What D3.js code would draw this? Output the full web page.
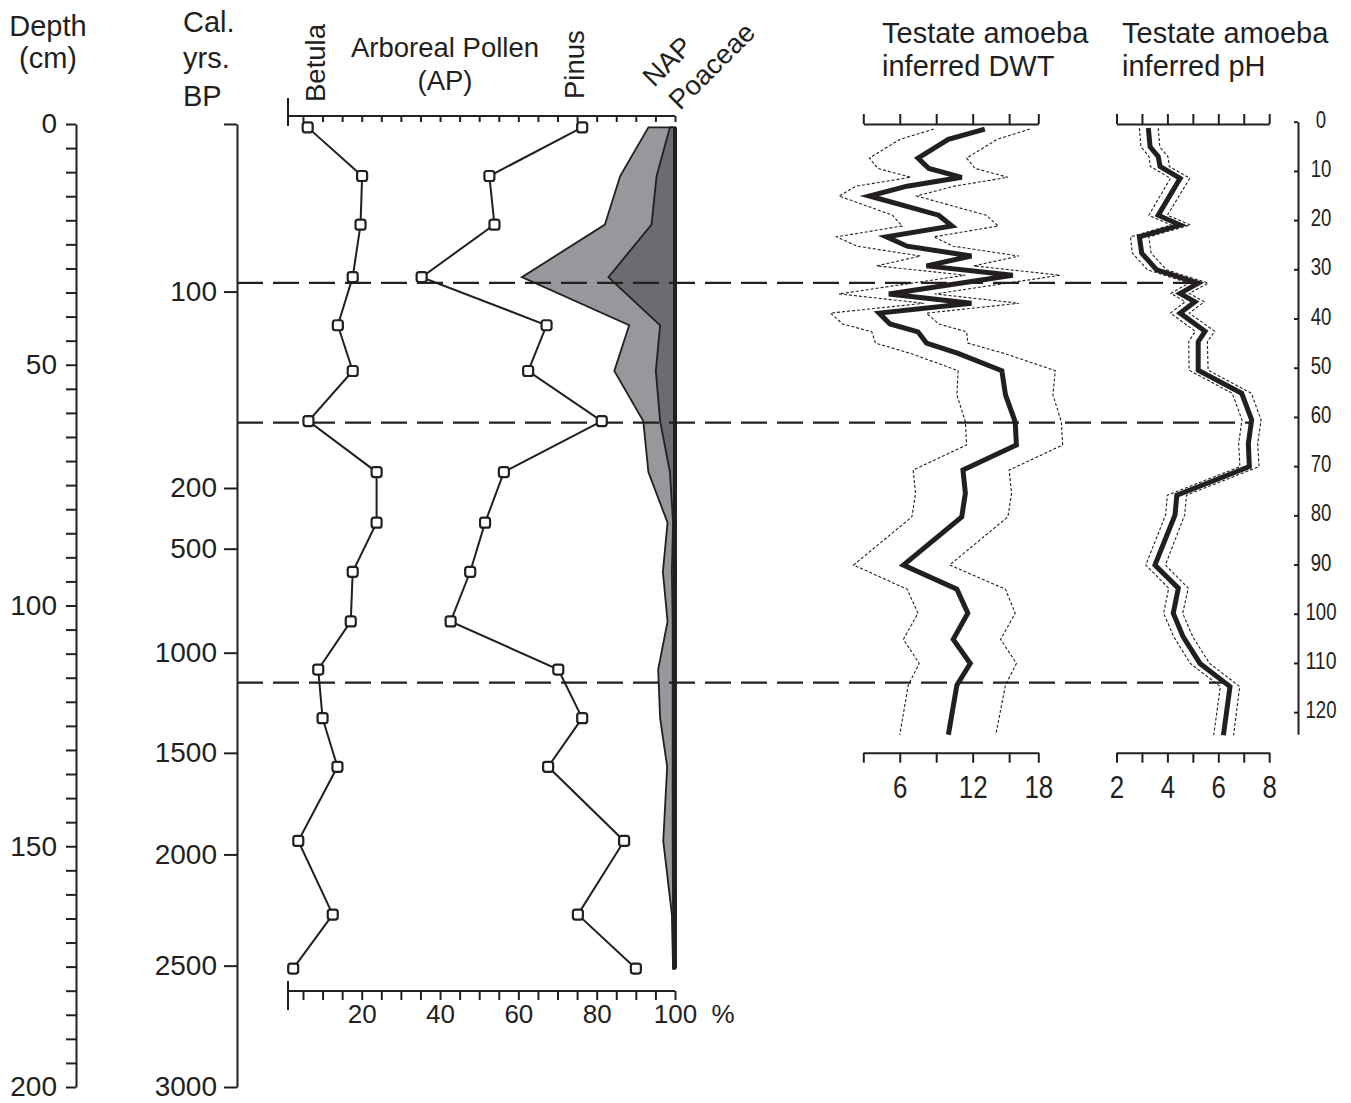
<!DOCTYPE html>
<html>
<head>
<meta charset="utf-8">
<script src="https://cdn.jsdelivr.net/npm/d3@7"></script>
<style>
  body { margin: 0; background: #fff; }
  text { font-family: "Liberation Sans", Arial, Helvetica, sans-serif; fill: #231f20; }
</style>
</head>
<body>
<svg id="chart" width="1351" height="1103"></svg>
<script>
// ---- data ----
// age-depth tick labels of the calibrated age axis (depth in cm of each label)
const calAges   = [100, 200, 500, 1000, 1500, 2000, 2500, 3000];
const calDepths = [34.8, 75.6, 88.2, 109.8, 130.6, 151.7, 174.8, 200];

// pollen samples (core depth, cm) and percentages
const pollenDepth = [0.7, 10.8, 20.9, 31.8, 41.8, 51.3, 61.7, 72.3, 82.8, 93.0, 103.3, 113.3, 123.4, 133.5, 148.9, 164.2, 175.4];
const betula  = [6.2, 20.1, 19.7, 17.7, 13.9, 17.7, 6.4, 23.8, 23.8, 17.7, 17.2, 8.9, 10.0, 13.8, 3.8, 12.6, 2.5];
const pinus   = [76.3, 52.6, 53.9, 35.3, 67.2, 62.5, 81.3, 56.3, 51.5, 47.7, 42.7, 70.2, 76.3, 67.6, 87.0, 75.2, 90.0];
const nap     = [6.8, 14.0, 17.9, 39.1, 11.7, 15.5, 8.1, 6.8, 1.9, 3.1, 1.9, 4.3, 3.8, 2.0, 3.0, 0.8, 0.5];
const poaceae = [1.3, 4.7, 6.0, 17.0, 3.8, 4.9, 3.8, 1.3, 0.5, 0.8, 0.6, 0.6, 0.6, 0.6, 0.6, 0.5, 0.5];

// zone boundaries (core depth, cm)
const zoneDepth = [33, 62, 116];

// testate amoeba depth water table (cm), depth of testate core
const dwtDepth = [1.5, 3.6, 7.4, 9.5, 11.3, 13.1, 15.1, 19.0, 21.2, 23.4, 25.3, 27.3, 29.3, 31.2, 35.0, 36.9, 38.9, 41.1, 42.7, 45.0, 47.1, 50.6, 55.5, 61.0, 65.7, 70.8, 75.5, 80.3, 90.1, 95.0, 99.9, 105.2, 110.1, 114.5, 124.6];
const dwt      = [13.0, 10.0, 7.5, 8.4, 11.1, 6.6, 3.5, 9.2, 10.3, 4.9, 6.6, 11.9, 8.2, 15.3, 5.1, 11.9, 4.3, 5.2, 7.5, 8.2, 10.8, 14.4, 14.7, 15.5, 15.6, 11.2, 11.4, 11.1, 6.3, 10.7, 11.6, 10.4, 11.8, 10.7, 10.0];
const dwtLow   = [8.8, 6.0, 3.5, 4.2, 6.9, 2.4, 1.0, 5.4, 6.2, 0.8, 2.5, 7.7, 4.1, 11.4, 1.0, 8.0, 0.3, 1.3, 3.7, 4.0, 6.9, 10.8, 10.7, 11.4, 11.5, 7.1, 7.3, 7.0, 2.2, 6.6, 7.5, 6.3, 7.6, 6.7, 6.0];
const dwtHigh  = [16.7, 14.0, 11.5, 12.2, 14.9, 10.5, 7.4, 13.1, 14.1, 8.8, 10.4, 15.8, 12.1, 19.2, 8.9, 15.8, 8.2, 9.2, 11.5, 11.6, 14.6, 18.8, 18.6, 19.3, 19.4, 15.0, 15.2, 14.9, 10.1, 14.7, 15.5, 14.3, 15.6, 14.7, 13.9];
const dwtTicks = [3, 6, 9, 12, 15, 17.4];
const dwtTickLabels = ["", "6", "", "12", "", "18"];

// testate amoeba pH
const phDepth = [1.3, 5.1, 7.1, 9.1, 11.5, 19.0, 21.0, 23.4, 26.7, 30.1, 32.8, 34.9, 36.6, 38.9, 42.6, 44.7, 50.5, 55.2, 60.6, 65.4, 70.1, 75.9, 79.9, 90.1, 94.8, 99.9, 104.7, 110.1, 114.8, 124.7];
const ph      = [3.25, 3.32, 3.64, 3.71, 4.50, 3.64, 4.50, 2.90, 2.99, 3.58, 5.21, 4.50, 5.08, 4.50, 5.48, 5.21, 5.21, 6.92, 7.31, 7.18, 7.22, 4.37, 4.30, 3.51, 4.43, 4.23, 4.62, 5.28, 6.46, 6.20];
const phLow   = [2.90, 2.96, 3.28, 3.33, 4.12, 3.27, 4.15, 2.55, 2.62, 3.22, 4.85, 4.14, 4.70, 4.12, 5.10, 4.84, 4.85, 6.55, 6.93, 6.80, 6.85, 4.00, 3.93, 3.15, 4.05, 3.85, 4.25, 4.90, 6.08, 5.82];
const phHigh  = [3.64, 3.70, 4.02, 4.08, 4.88, 4.00, 4.90, 3.27, 3.36, 3.96, 5.60, 4.86, 5.45, 4.86, 5.86, 5.57, 5.60, 7.30, 7.68, 7.55, 7.60, 4.75, 4.68, 3.92, 4.82, 4.60, 5.00, 5.66, 6.84, 6.60];
const phTicks = [2, 3, 4, 5, 6, 7, 8];

const taDepthTicks = [0, 10, 20, 30, 40, 50, 60, 70, 80, 90, 100, 110, 120];

// ---- drawing ----
const ink = "#231f20";
const svg = d3.select("#chart");

const yCore = d3.scaleLinear().domain([0, 200]).range([124, 1087]);
const yTa   = d3.scaleLinear().domain([0, 124.5]).range([121.7, 734.3]);
const xPol  = d3.scaleLinear().domain([0, 100]).range([283.4, 675]);
const xDwt  = d3.scaleLinear().domain([3, 17.4]).range([863.3, 1038.3]);
const xPh   = d3.scaleLinear().domain([2, 8]).range([1116.5, 1269.2]);

function styleAxis(g, fs) {
  g.attr("font-size", fs).attr("font-family", null);
  g.selectAll("path, line").attr("stroke", ink).attr("stroke-width", 2);
  g.selectAll("text").attr("fill", ink);
}
// the narrow, tall digits of the testate panels
function narrow(sel, fs) {
  sel.each(function () {
    const s = d3.select(this).text();
    if (s.length) d3.select(this).attr("textLength", s.length * 0.45 * fs).attr("lengthAdjust", "spacingAndGlyphs");
  });
}

// left depth axis
svg.append("g").attr("transform", "translate(76,0)")
  .call(d3.axisLeft(yCore).tickValues(d3.range(0, 201, 5)).tickSize(10).tickSizeOuter(0)
    .tickPadding(9).tickFormat(d => d % 50 ? "" : d))
  .call(g => styleAxis(g, 28));

// calibrated age axis
svg.append("g").attr("transform", "translate(237,0)")
  .call(d3.axisLeft(yCore).tickValues([0].concat(calDepths)).tickSize(13).tickSizeOuter(0)
    .tickPadding(7).tickFormat((d, i) => i === 0 ? "" : calAges[i - 1]))
  .call(g => styleAxis(g, 28));

// headers
function lines(x, ys, strs, anchor, fs) {
  strs.forEach((s, i) => svg.append("text").attr("x", x).attr("y", ys[i])
    .attr("text-anchor", anchor).attr("font-size", fs).text(s));
}
lines(48, [36, 68], ["Depth", "(cm)"], "middle", 29);
lines(183, [32, 68, 106], ["Cal.", "yrs.", "BP"], "start", 29);
lines(445, [57, 90], ["Arboreal Pollen", "(AP)"], "middle", 27.5);
lines(882, [43, 76], ["Testate amoeba", "inferred DWT"], "start", 29);
lines(1122, [43, 76], ["Testate amoeba", "inferred pH"], "start", 29);

svg.append("text").attr("transform", "translate(325,102) rotate(-90)").attr("font-size", 27.5).text("Betula");
svg.append("text").attr("transform", "translate(584,99) rotate(-90)").attr("font-size", 27.5).text("Pinus");
svg.append("text").attr("transform", "translate(654,88) rotate(-45)").attr("font-size", 27.5).text("NAP");
svg.append("text").attr("transform", "translate(680,111) rotate(-45)").attr("font-size", 27.5).text("Poaceae");

// pollen axes
const polEnd = 288;
svg.append("g").attr("transform", "translate(0,116)")
  .call(d3.axisBottom(xPol).tickValues(d3.range(5, 101, 5)).tickSize(6).tickSizeOuter(0).tickFormat(""))
  .call(g => styleAxis(g, 26))
  .call(g => g.select(".domain").attr("d", `M${polEnd},0H${xPol(100)}`));
svg.append("line").attr("x1", polEnd).attr("x2", polEnd).attr("y1", 98).attr("y2", 126)
  .attr("stroke", ink).attr("stroke-width", 2);

svg.append("g").attr("transform", "translate(0,991)")
  .call(d3.axisBottom(xPol).tickValues(d3.range(5, 101, 5)).tickSize(9).tickSizeOuter(0)
    .tickPadding(5).tickFormat(d => d % 20 ? "" : d))
  .call(g => styleAxis(g, 26))
  .call(g => g.select(".domain").attr("d", `M${polEnd},0H${xPol(100)}`));
svg.append("line").attr("x1", polEnd).attr("x2", polEnd).attr("y1", 981).attr("y2", 1010)
  .attr("stroke", ink).attr("stroke-width", 2);
svg.append("text").attr("x", 723).attr("y", 1023).attr("text-anchor", "middle").attr("font-size", 26).text("%");

// NAP and Poaceae silhouettes
const napRows = pollenDepth.map((d, i) => ({ depth: d, v: nap[i] }));
const poaRows = pollenDepth.map((d, i) => ({ depth: d, v: poaceae[i] }));
const silhouette = d3.area().y(d => yCore(d.depth)).x0(xPol(100)).x1(d => xPol(100 - d.v));
svg.append("path").datum(napRows).attr("d", silhouette)
  .attr("fill", "#97989c").attr("stroke", ink).attr("stroke-width", 1.8);
svg.append("path").datum(poaRows).attr("d", silhouette)
  .attr("fill", "#6b6c70").attr("stroke", ink).attr("stroke-width", 1.8);
svg.append("line").attr("x1", xPol(100)).attr("x2", xPol(100))
  .attr("y1", yCore(pollenDepth[0])).attr("y2", yCore(pollenDepth[pollenDepth.length - 1]))
  .attr("stroke", ink).attr("stroke-width", 4);

// zone lines, ending on the pH curve
const phAt = d => {
  const i = d3.bisectLeft(phDepth, d);
  const t = (d - phDepth[i - 1]) / (phDepth[i] - phDepth[i - 1]);
  return ph[i - 1] + t * (ph[i] - ph[i - 1]);
};
svg.selectAll(".zone").data(zoneDepth).join("line").attr("class", "zone")
  .attr("x1", 237).attr("x2", d => xPh(phAt(yTa.invert(yCore(d)))))
  .attr("y1", d => yCore(d)).attr("y2", d => yCore(d))
  .attr("stroke", ink).attr("stroke-width", 2.2).attr("stroke-dasharray", "26,10");

// Betula and Pinus curves
[betula, pinus].forEach(series => {
  const rows = pollenDepth.map((d, i) => ({ depth: d, v: series[i] }));
  svg.append("path").datum(rows)
    .attr("d", d3.line().x(d => xPol(d.v)).y(d => yCore(d.depth)))
    .attr("fill", "none").attr("stroke", ink).attr("stroke-width", 2);
  svg.append("g").selectAll("rect").data(rows).join("rect")
    .attr("x", d => xPol(d.v) - 5).attr("y", d => yCore(d.depth) - 5)
    .attr("width", 10).attr("height", 10).attr("rx", 2.5)
    .attr("fill", "#fff").attr("stroke", ink).attr("stroke-width", 2.2);
});

// testate curves
function curve(depths, vals, xs, width, dash) {
  const rows = depths.map((d, i) => ({ depth: d, v: vals[i] }));
  svg.append("path").datum(rows)
    .attr("d", d3.line().x(d => xs(d.v)).y(d => yTa(d.depth)))
    .attr("fill", "none").attr("stroke", ink).attr("stroke-width", width)
    .attr("stroke-dasharray", dash || null);
}
curve(dwtDepth, dwtLow, xDwt, 1.1, "3,2");
curve(dwtDepth, dwtHigh, xDwt, 1.1, "3,2");
curve(dwtDepth, dwt, xDwt, 5);
curve(phDepth, phLow, xPh, 1.1, "3,2");
curve(phDepth, phHigh, xPh, 1.1, "3,2");
curve(phDepth, ph, xPh, 5);

// testate axes
svg.append("g").attr("transform", "translate(0,124)")
  .call(d3.axisTop(xDwt).tickValues(dwtTicks).tickSize(10).tickSizeOuter(0).tickFormat(""))
  .call(g => styleAxis(g, 32));
svg.append("g").attr("transform", "translate(0,752.7)")
  .call(d3.axisBottom(xDwt).tickValues(dwtTicks).tickSize(10).tickSizeOuter(0)
    .tickPadding(13).tickFormat((d, i) => dwtTickLabels[i]))
  .call(g => styleAxis(g, 32))
  .call(g => narrow(g.selectAll("text"), 32));
svg.append("g").attr("transform", "translate(0,124)")
  .call(d3.axisTop(xPh).tickValues(phTicks).tickSize(10).tickSizeOuter(0).tickFormat(""))
  .call(g => styleAxis(g, 32));
svg.append("g").attr("transform", "translate(0,752.7)")
  .call(d3.axisBottom(xPh).tickValues(phTicks).tickSize(10).tickSizeOuter(0)
    .tickPadding(13).tickFormat(d => d % 2 ? "" : d))
  .call(g => styleAxis(g, 32))
  .call(g => narrow(g.selectAll("text"), 32));

// right-hand testate depth axis
svg.append("g").attr("transform", "translate(1298,0)")
  .call(d3.axisLeft(yTa).tickValues(taDepthTicks).tickSize(4).tickSizeOuter(0).tickFormat(""))
  .call(g => styleAxis(g, 23));
svg.append("g").selectAll("text").data(taDepthTicks).join("text")
  .attr("x", 1321).attr("y", d => yTa(d) - 2).attr("dy", "0.35em")
  .attr("text-anchor", "middle").attr("font-size", 23).text(d => d)
  .call(sel => narrow(sel, 23));
</script>
</body>
</html>
